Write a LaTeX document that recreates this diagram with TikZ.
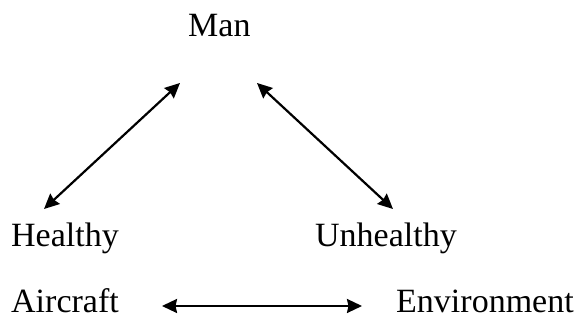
\documentclass[tikz,border=0pt]{standalone}
\usepackage{fontspec}
\setmainfont{Liberation Serif}
\usetikzlibrary{arrows.meta}
\tikzset{
  link/.style={line width=2.2pt,{Stealth[length=15pt,width=14pt,inset=1.5pt]}-{Stealth[length=15pt,width=14pt,inset=1.5pt]}}
}
\begin{document}
\begin{tikzpicture}[x=1pt,y=1pt]
        \useasboundingbox (0,0) rectangle (579,320);

        \begin{scope}[every node/.style={anchor=base west,inner sep=0pt,font=\fontsize{34}{40}\selectfont}]
          \node (man)       at (188,283) {Man};
          \node (healthy)   at (11,73)   {Healthy};
          \node (unhealthy) at (315,73)  {Unhealthy};
          \node (aircraft)  at (11,7)    {Aircraft};
          \node (env)       at (396,7)   {Environment};
        \end{scope}

        \coordinate (m1) at (180,237);
        \coordinate (m2) at (257,237);
        \coordinate (h1) at (44,111);
        \coordinate (u1) at (393,111);
        \coordinate (a1) at (162,14);
        \coordinate (e1) at (362,14);

        \draw[link] (h1) -- (m1);
        \draw[link] (m2) -- (u1);
        \draw[link] (a1) -- (e1);

      \end{tikzpicture}
\end{document}
